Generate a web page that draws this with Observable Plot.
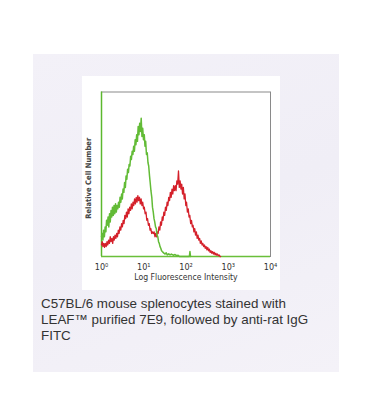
<!DOCTYPE html>
<html>
<head>
<meta charset="utf-8">
<script src="https://cdn.jsdelivr.net/npm/d3@7"></script>
<script src="https://cdn.jsdelivr.net/npm/@observablehq/plot@0.6"></script>
<style>
  html, body { margin: 0; padding: 0; background: #ffffff; width: 369px; height: 411px; overflow: hidden; }
  #panel { position: absolute; left: 33px; top: 54px; width: 306px; height: 318px;
           background: linear-gradient(160deg, #f3f1f8 0%, #f0eef6 50%, #f4f2f8 100%); }
  #chart { position: absolute; left: 82px; top: 76px; width: 198px; height: 214px; background: #fff; }
  #chart svg { display: block; }
  #caption { position: absolute; left: 41px; top: 296px; font-family: "Liberation Sans", Arial, sans-serif;
             font-size: 13.4px; line-height: 16px; color: #333; white-space: nowrap; }
</style>
</head>
<body>
<div id="panel"></div>
<div id="chart"></div>
<div id="caption">C57BL/6 mouse splenocytes stained with<br>LEAF™ purified 7E9, followed by anti-rat IgG<br>FITC</div>
<script>
const xTicks = [1, 10, 100, 1000, 10000];
const tickLabels = ["10⁰", "10¹", "10²", "10³", "10⁴"];
const xLabel = "Log Fluorescence Intensity";
const yLabel = "Relative Cell Number";

const greenX = [1.00,1.04,1.08,1.12,1.17,1.22,1.27,1.32,1.37,1.43,1.49,1.55,1.61,1.68,1.75,1.82,1.90,1.98,2.06,2.15,2.24,2.33,2.43,2.53,2.64,2.75,2.87,2.99,3.11,3.24,3.38,3.52,3.67,3.82,3.98,4.15,4.33,4.51,4.70,4.90,5.10,5.32,5.54,5.77,6.01,6.27,6.53,6.80,7.09,7.38,7.69,8.02,8.35,8.70,9.07,9.45,9.85,10.3,10.7,11.1,11.6,12.1,12.6,13.1,13.7,14.2,14.8,15.5,16.1,16.8,17.5,18.2,19.0,19.8,20.6,21.5,22.4,23.3,24.3,25.3,26.4,27.5,28.7,30,32,34,36,39,42,45,50,55,60,65,70,120,124,128];
const greenY = [12,14,10,16,12,18,15,22,19,24,18,26,21,28,24,30,25,31,26,32,27,31,29,33,30,36,33,38,35,41,39,45,42,49,47,53,51,56,55,61,59,64,62,67,64,71,68,74,70,79,74,81,76,84,73,78,71,74,67,70,62,63,57,55,49,45,40,36,30,27,23,21,18,17,13,12,9,8,6,5,3.5,3,2.5,2,1.5,2.2,1,1.6,1,1.5,0.8,1.2,0.5,0.8,0,0,3,0];

const redX = [1.00,1.04,1.08,1.13,1.18,1.23,1.29,1.35,1.41,1.47,1.54,1.61,1.68,1.76,1.84,1.92,2.00,2.09,2.19,2.29,2.39,2.50,2.61,2.73,2.86,2.99,3.12,3.26,3.41,3.57,3.73,3.90,4.08,4.26,4.45,4.66,4.87,5.09,5.32,5.56,5.81,6.07,6.35,6.64,6.94,7.25,7.58,7.92,8.28,8.66,9.05,9.46,9.89,10.3,10.8,11.3,11.8,12.3,12.9,13.5,14.1,14.7,15.4,16.1,16.8,17.6,18.4,19.2,20.1,21.0,21.9,22.9,24.0,25.0,26.2,27.4,28.6,29.9,31.3,32.7,34.2,35.7,37.3,39.0,40.8,42.6,44.6,46.6,48.7,50.9,53.2,55.6,58.1,60.8,63.5,66.4,69.4,72.5,75.8,79.2,82.8,86.6,90.5,94.6,98.9,103,108,113,118,123,129,135,141,147,154,161,168,176,184,192,201,210,219,229,240,250,262,274,286,299,313,327,342,357,373,390,408,426,446,466,487,509,532,556,581,607,635,660];
const redY = [7,9,6,8,5.5,8,6,9,7,10,8,12,9,11,8,12,10,13,11,14,12,16,14,18,16,20,18,22,20,25,23,27,24,29,26,30,28,32,29,33,31,35,32,36,33,37,34,36,32,35,31,33,29,30,26,27,22,23,19,20,16,17,14,15,14,15,12,14,12,15,14,18,16,21,19,24,22,27,25,30,28,33,31,36,34,39,36,41,38,43,40,43,40,46,44,52,42,46,41,44,38,42,35,38,31,33,27,29,24,25,20,22,18,19,15,17,13,15,11,13,10,11,8,9.5,7,8,6,7,5,6,4,5.5,3.5,4.5,2.5,3.5,2,3,1.5,2.5,1,2,0.8,1.5,0.5,1,0,0];

const green = greenX.map((x, i) => ({x, y: greenY[i]}));
const red = redX.map((x, i) => ({x, y: redY[i]}));

const plot = Plot.plot({
  width: 198,
  height: 214,
  marginLeft: 19,
  marginRight: 10,
  marginTop: 15.5,
  marginBottom: 34,
  style: {background: "#fff", fontFamily: "'DejaVu Sans Condensed', 'DejaVu Sans', sans-serif", color: "#333"},
  x: {type: "log", domain: [1, 10000]},
  y: {domain: [0, 100]},
  marks: [
    Plot.frame({stroke: "#8a8a8a", strokeWidth: 1}),
    Plot.ruleX([1], {stroke: "#5cb82e", strokeWidth: 1.5}),
    Plot.ruleY([0], {stroke: "#6abf3a", strokeWidth: 1.4}),
    Plot.line(red, {x: "x", y: "y", stroke: "#d4202a", strokeWidth: 1.3}),
    Plot.line(green, {x: "x", y: "y", stroke: "#62bb36", strokeWidth: 1.5}),
    Plot.axisX({ticks: xTicks, tickSize: 0, tickPadding: 7, fontSize: 9,
                tickFormat: (d) => tickLabels[xTicks.indexOf(d)], label: null}),
    Plot.axisY({ticks: [], label: null}),
    Plot.text([xLabel], {frameAnchor: "bottom", dy: 23, fontSize: 8.6, fill: "#333"}),
    Plot.text([yLabel], {frameAnchor: "left", textAnchor: "middle", rotate: -90, dx: -13, dy: 4, fontSize: 7.6, fontWeight: "bold", fill: "#444"})
  ]
});
document.getElementById("chart").appendChild(plot);
</script>
</body>
</html>
